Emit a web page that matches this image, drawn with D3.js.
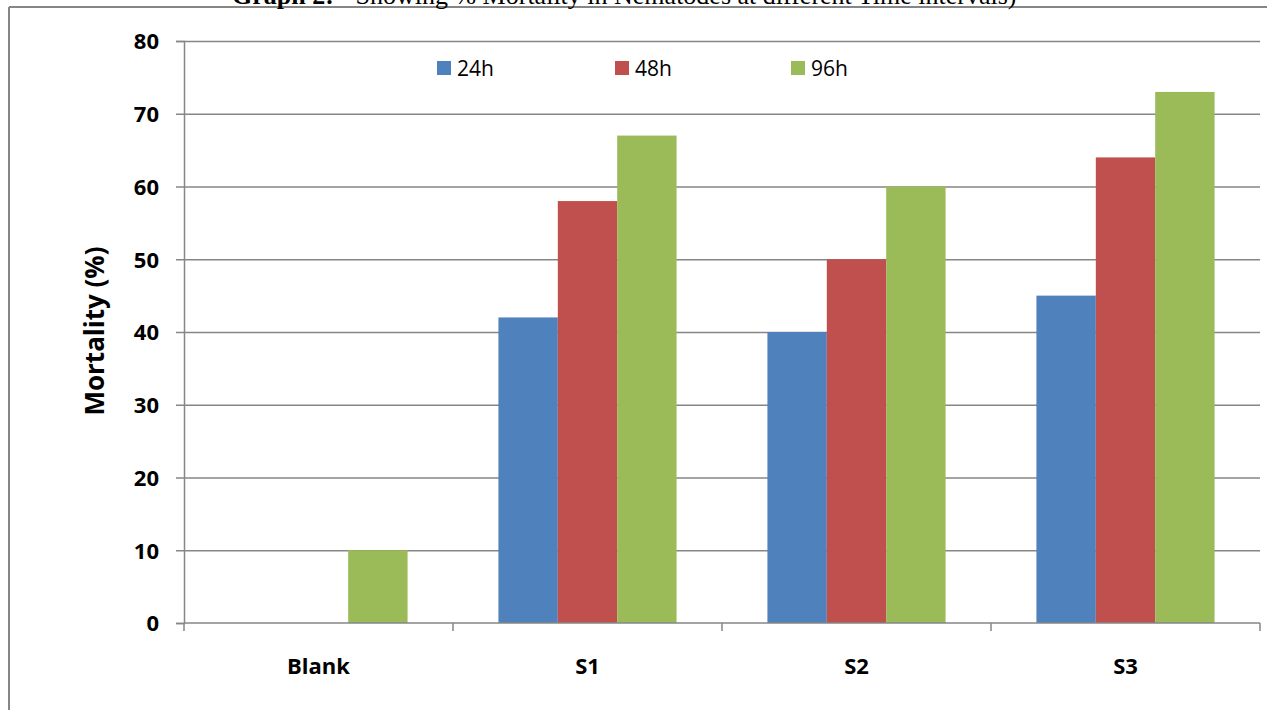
<!DOCTYPE html>
<head>
  <meta charset="utf-8">
  <title>Mortality in Nematodes</title>
  <script src="https://d3js.org/d3.v7.min.js"></script>
  <style>
    body { margin: 0px; background: white; }
    text { font-family: "Open Sans", "Liberation Sans", sans-serif; fill: black; }
    .axis text { font-size: 22px; font-weight: bold; }
    .axis path, .axis line { stroke: #868686; stroke-width: 1.5; }
    .grid line { stroke: #868686; stroke-width: 1.5; }
    .grid path { display: none; }
    .legend text { font-size: 21px; }
  </style>
</head>
<body>
  <svg width="1267" height="710"></svg>
  <script>
    // data
    var categories = ["Blank", "S1", "S2", "S3"];
    var seriesNames = ["24h", "48h", "96h"];
    var values24 = [0, 42, 40, 45];
    var values48 = [0, 58, 50, 64];
    var values96 = [10, 67, 60, 73];
    var yTicks = [0, 10, 20, 30, 40, 50, 60, 70, 80];
    var colors = ["#4F81BD", "#C0504D", "#9BBB59"];

    var series = [values24, values48, values96];
    var svg = d3.select("svg");
    var margin = { "top": 41, "left": 184, "right": 7, "bottom": 87 };
    var plot = {
      "width": 1267 - margin.left - margin.right,
      "height": 710 - margin.top - margin.bottom
    };

    // outer frame (left and top edges visible)
    svg.append("line").attr("x1", 9).attr("x2", 9).attr("y1", 7).attr("y2", 710)
      .attr("stroke", "#868686").attr("stroke-width", 2);
    svg.append("line").attr("x1", 9).attr("x2", 1267).attr("y1", 7).attr("y2", 7)
      .attr("stroke", "#868686").attr("stroke-width", 2);

    // title, cut off at the top as in the source
    var title = svg.append("text")
      .attr("x", 232).attr("y", 4)
      .style("font-family", "'Liberation Serif', 'Times New Roman', serif")
      .style("font-size", "26px");
    title.append("tspan").style("font-weight", "bold").text("Graph 2: ");
    title.append("tspan").text("- Showing % Mortality in Nematodes at different Time intervals)");

    var g = svg.append("g").attr("transform", translate(margin.left, margin.top));

    var x = d3.scaleBand().domain(categories).range([0, plot.width]).paddingInner(0).paddingOuter(0);
    var x1 = d3.scaleBand().domain(seriesNames).range([0, x.bandwidth()]).paddingOuter(0.765);
    var y = d3.scaleLinear().domain([0, 80]).range([plot.height, 0]);

    // gridlines
    g.append("g").attr("class", "grid")
      .call(d3.axisLeft(y).tickValues(yTicks.slice(1)).tickSize(-plot.width).tickFormat(""));

    // bars
    var groups = g.selectAll(".cat")
      .data(categories)
      .enter().append("g")
      .attr("class", "cat")
      .attr("transform", function(d) { return translate(x(d), 0); });

    groups.selectAll("rect")
      .data(function(d, i) {
        return series.map(function(s, j) { return { name: seriesNames[j], value: s[i], color: colors[j] }; });
      })
      .enter().append("rect")
      .attr("x", function(d) { return x1(d.name); })
      .attr("width", x1.bandwidth())
      .attr("y", function(d) { return y(d.value); })
      .attr("height", function(d) { return plot.height - y(d.value); })
      .attr("fill", function(d) { return d.color; });

    // y axis
    var yAxis = g.append("g").attr("class", "axis")
      .call(d3.axisLeft(y).tickValues(yTicks).tickSize(8).tickPadding(17));
    yAxis.selectAll("text").attr("dy", "0.36em");

    // x axis with ticks at category boundaries
    var xAxis = g.append("g").attr("class", "axis")
      .attr("transform", translate(0, plot.height));
    xAxis.append("line").attr("x1", 0).attr("x2", plot.width).attr("y1", 0).attr("y2", 0);
    xAxis.selectAll(".bound")
      .data(d3.range(categories.length + 1))
      .enter().append("line")
      .attr("class", "bound")
      .attr("x1", function(i) { return i * x.step(); })
      .attr("x2", function(i) { return i * x.step(); })
      .attr("y1", 0).attr("y2", 8);
    xAxis.selectAll(".lab")
      .data(categories)
      .enter().append("text")
      .attr("class", "lab")
      .attr("x", function(d) { return x(d) + x.bandwidth() / 2; })
      .attr("y", 51)
      .attr("text-anchor", "middle")
      .text(function(d) { return d; });

    // y axis title
    svg.append("text")
      .attr("transform", "translate(104,331) rotate(-90)")
      .attr("text-anchor", "middle")
      .style("font-size", "26px")
      .style("font-weight", "bold")
      .text("Mortality (%)");

    // legend
    var legendX = [437, 615, 791];
    var legend = svg.append("g").attr("class", "legend");
    seriesNames.forEach(function(name, i) {
      legend.append("rect")
        .attr("x", legendX[i]).attr("y", 61)
        .attr("width", 14).attr("height", 14)
        .attr("fill", colors[i]);
      legend.append("text")
        .attr("x", legendX[i] + 20).attr("y", 76)
        .text(name);
    });

    function translate(x, y) {
      return "translate(" + String(x) + "," + String(y) + ")";
    }
  </script>
</body>
</html>
